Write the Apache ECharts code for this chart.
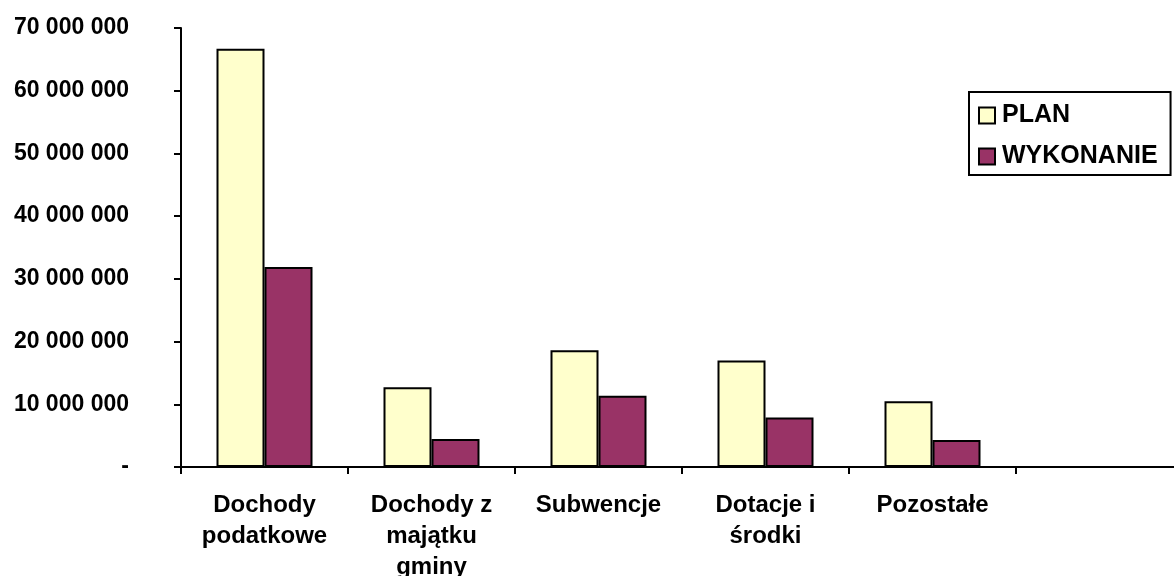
<!DOCTYPE html>
<html>
<head>
<meta charset="utf-8">
<script src="https://cdn.jsdelivr.net/npm/echarts@6/dist/echarts.min.js"></script>
<style>
html,body{margin:0;padding:0;background:#fff;}
#chart{width:1174px;height:576px;}
</style>
</head>
<body>
<div id="chart"></div>
<script>
const categories = ['Dochody\npodatkowe', 'Dochody z\nmajątku\ngminy', 'Subwencje', 'Dotacje i\nśrodki', 'Pozostałe', ''];
const planValues = [66700000, 12700000, 18600000, 17000000, 10500000, null];
const wykonanieValues = [31900000, 4450000, 11350000, 7900000, 4300000, null];
const yTickLabels = ['-', '10 000 000', '20 000 000', '30 000 000', '40 000 000', '50 000 000', '60 000 000', '70 000 000'];

const FONT = '"Liberation Sans", Arial, sans-serif';
const chart = echarts.init(document.getElementById('chart'));
chart.setOption({
  animation: false,
  backgroundColor: '#ffffff',
  textStyle: { fontFamily: FONT },
  grid: { left: 181, top: 28, right: -9, bottom: 109, containLabel: false, outerBoundsMode: 'none' },
  legend: {
    orient: 'vertical',
    left: 969,
    top: 92,
    padding: [11, 13, 6, 9],
    itemGap: 16,
    itemWidth: 16,
    itemHeight: 16,
    icon: 'rect',
    borderColor: '#000',
    borderWidth: 2,
    backgroundColor: '#fff',
    textStyle: { fontFamily: FONT, fontWeight: 'bold', fontSize: 25, color: '#000', lineHeight: 24, padding: [0, 0, 0, 2] },
    data: ['PLAN', 'WYKONANIE']
  },
  xAxis: {
    type: 'category',
    data: categories,
    boundaryGap: true,
    axisLine: { lineStyle: { color: '#000', width: 2 } },
    axisTick: { show: true, alignWithLabel: false, length: 7, lineStyle: { color: '#000', width: 2 } },
    axisLabel: { interval: 0, margin: 23, fontFamily: FONT, fontWeight: 'bold', fontSize: 24, color: '#000', lineHeight: 31 },
    splitLine: { show: false }
  },
  yAxis: {
    type: 'value',
    min: 0,
    max: 70000000,
    interval: 10000000,
    axisLine: { show: true, lineStyle: { color: '#000', width: 2 } },
    axisTick: { show: true, length: 7, lineStyle: { color: '#000', width: 2 } },
    axisLabel: {
      margin: 52,
      padding: [4, 0, 0, 0],
      fontFamily: FONT, fontWeight: 'bold', fontSize: 23, color: '#000',
      formatter: function (v, i) { return yTickLabels[Math.round(v / 10000000)]; }
    },
    splitLine: { show: false }
  },
  series: [
    {
      name: 'PLAN', type: 'bar', data: planValues, barWidth: 48, barGap: '0%',
      itemStyle: { color: '#FFFFCC', borderColor: '#000', borderWidth: 2 }
    },
    {
      name: 'WYKONANIE', type: 'bar', data: wykonanieValues, barWidth: 48,
      itemStyle: { color: '#993366', borderColor: '#000', borderWidth: 2 }
    }
  ]
});
</script>
</body>
</html>
